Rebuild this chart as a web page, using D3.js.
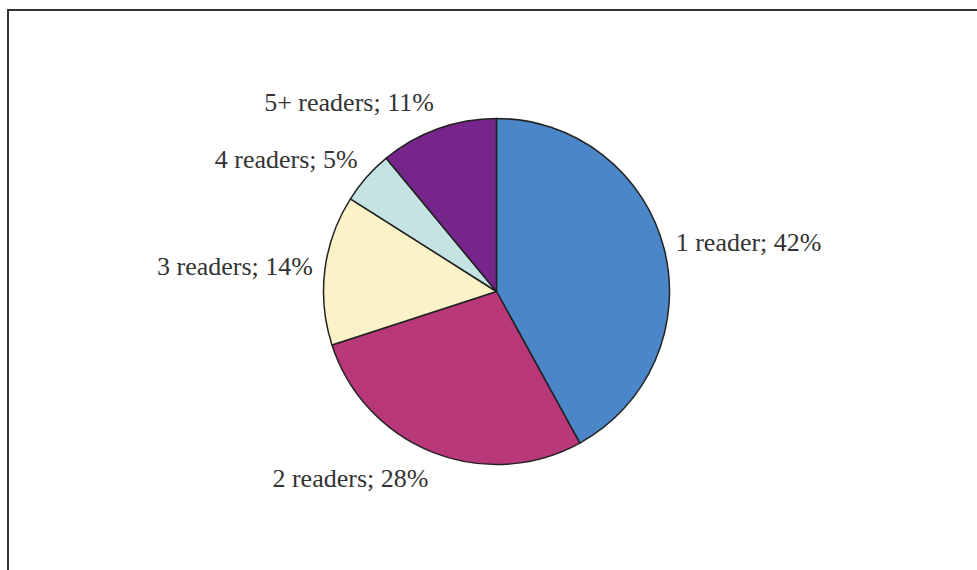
<!DOCTYPE html>
<html>
<head>
<meta charset="utf-8">
<script src="https://cdn.jsdelivr.net/npm/d3@7"></script>
<style>
  body { margin: 0; background: #fff; }
  text { font-family: "Liberation Serif", "DejaVu Serif", serif; }
</style>
</head>
<body>
<div id="piechart"></div>
<script>
// data
var categories = ["1 reader", "2 readers", "3 readers", "4 readers", "5+ readers"];
var shares = [42, 28, 14, 5, 11];
var colors = ["#4a86c8", "#b8387a", "#fcf2c8", "#c5e3e3", "#76268a"];

var data = categories.map(function(c, i) { return { name: c, value: shares[i] }; });

var width = 977,
    height = 570,
    radius = 173;

var svg = d3.select("#piechart").append("svg")
    .attr("width", width)
    .attr("height", height);

// frame (runs off the right and bottom edge like the original)
svg.append("rect")
    .attr("x", 8)
    .attr("y", 10)
    .attr("width", 1000)
    .attr("height", 600)
    .attr("fill", "none")
    .attr("stroke", "#333")
    .attr("stroke-width", 2);

var color = d3.scaleOrdinal().domain(categories).range(colors);

var arc = d3.arc()
    .outerRadius(radius)
    .innerRadius(0);

var labelArc = d3.arc()
    .outerRadius(radius + 12)
    .innerRadius(radius + 12);

var pie = d3.pie()
    .sort(null)
    .value(function(d) { return d.value; });

var g = svg.append("g")
    .attr("transform", "translate(" + 496.5 + "," + 291.5 + ")");

var slices = g.selectAll(".arc")
    .data(pie(data))
  .enter().append("g")
    .attr("class", "arc");

slices.append("path")
    .attr("d", arc)
    .style("fill", function(d) { return color(d.data.name); })
    .style("stroke", "#222")
    .style("stroke-width", 1.5)
    .style("stroke-linejoin", "round");

function midAngle(d) { return (d.startAngle + d.endAngle) / 2; }

// labels sit just outside the rim; the box is pushed away from the pie
// vertically so that its nearest corner touches the label point
slices.append("text")
    .attr("transform", function(d) {
      var c = labelArc.centroid(d);
      var shift = -Math.cos(midAngle(d)) * 16;
      return "translate(" + c[0] + "," + (c[1] + shift) + ")";
    })
    .attr("dy", ".35em")
    .attr("text-anchor", function(d) { return midAngle(d) < Math.PI ? "start" : "end"; })
    .style("font-size", "26px")
    .style("fill", "#333")
    .text(function(d) { return d.data.name + "; " + d.data.value + "%"; });
</script>
</body>
</html>
